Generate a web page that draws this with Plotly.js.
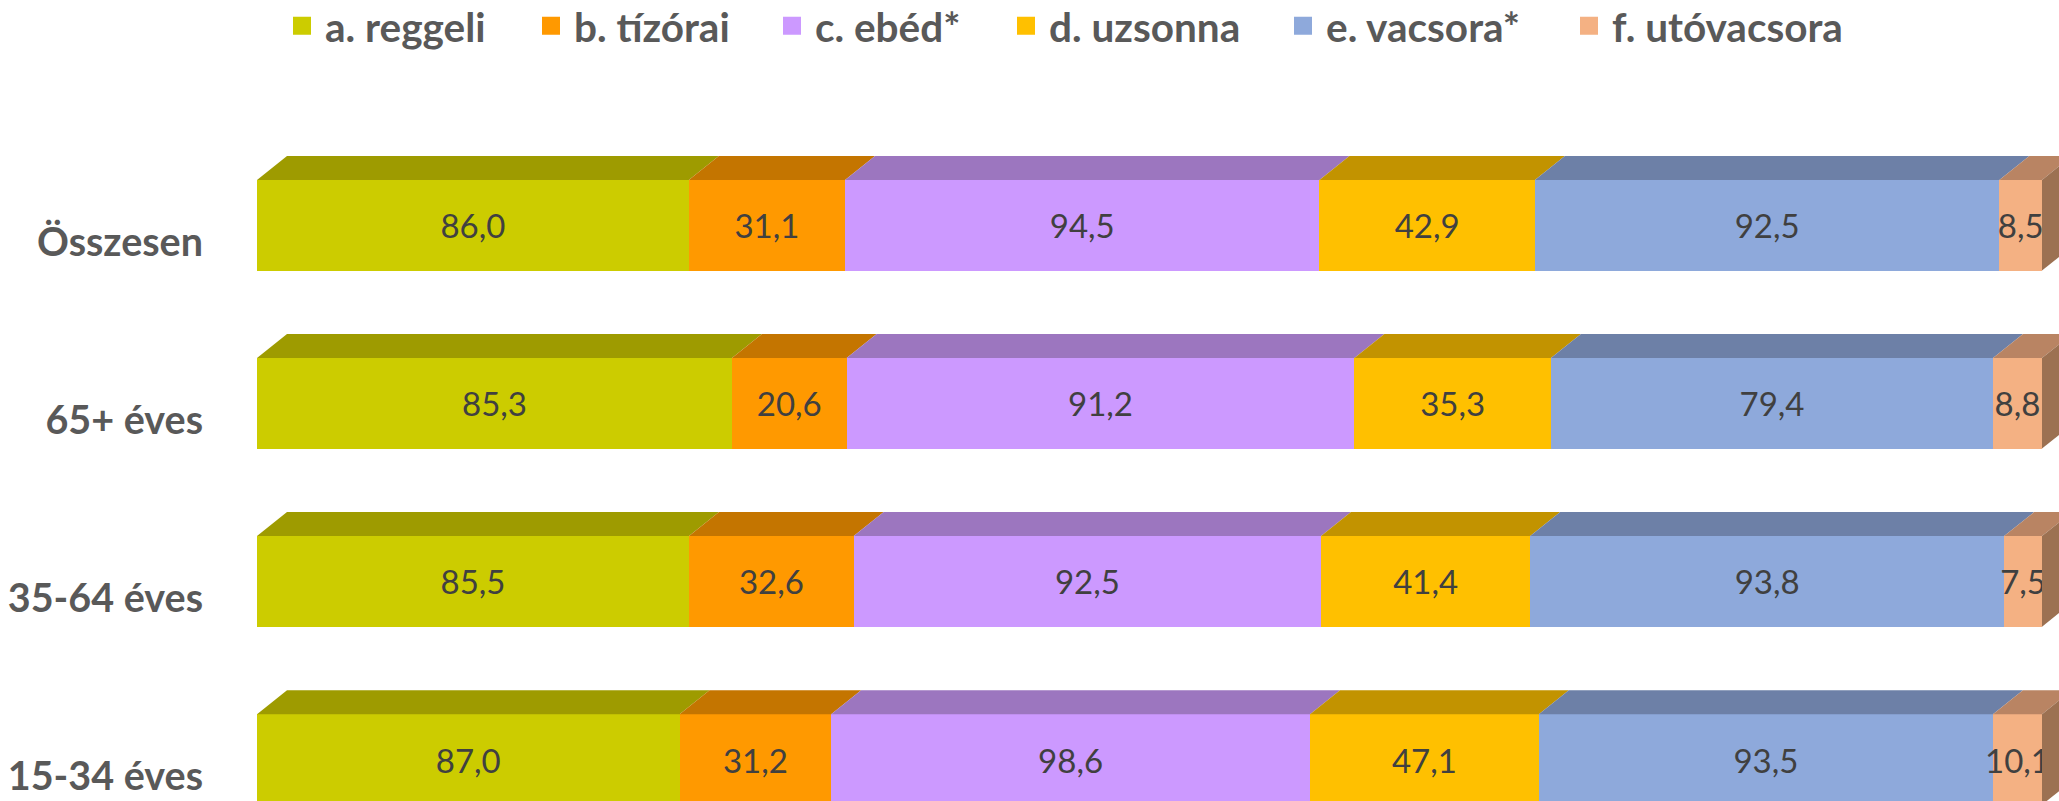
<!DOCTYPE html>
<html>
<head>
<meta charset="utf-8">
<script src="https://cdn.plot.ly/plotly-3.0.1.min.js"></script>
<style>
html, body { margin: 0; padding: 0; background: #ffffff; }
#chart { width: 2059px; height: 801px; }
</style>
</head>
<body>
<div id="chart"></div>
<script>
// ---- data ----
var categories = ['Összesen', '65+ éves', '35-64 éves', '15-34 éves'];
var seriesNames = ['a. reggeli', 'b. tízórai', 'c. ebéd*', 'd. uzsonna', 'e. vacsora*', 'f. utóvacsora'];
var reggeli    = [86.0, 85.3, 85.5, 87.0];
var tizorai    = [31.1, 20.6, 32.6, 31.2];
var ebed       = [94.5, 91.2, 92.5, 98.6];
var uzsonna    = [42.9, 35.3, 41.4, 47.1];
var vacsora    = [92.5, 79.4, 93.8, 93.5];
var utovacsora = [8.5, 8.8, 7.5, 10.1];
var seriesValues = [reggeli, tizorai, ebed, uzsonna, vacsora, utovacsora];

// ---- style ----
var frontColors = ['#CCCC00', '#FF9900', '#CC99FF', '#FFC000', '#8EA9DB', '#F4B183'];
var topColors   = ['#9E9B00', '#C47500', '#9C76BF', '#C29300', '#6D80A7', '#B98463'];
var sideColor   = '#9C7152';
var legendLeftPx = [291, 540, 781, 1015, 1292, 1578];   // legend entry positions (layout)

var W = 2059, H = 801;
var margin = {l: 257, r: 0, t: 130, b: 0};
var xPerUnitPx = 17.85;                    // pixels per percent unit
var plotW = W - margin.l - margin.r;
var xRange = [0, plotW / xPerUnitPx];
var catPx = 178.1;                          // pixels per category
var plotH = H - margin.t - margin.b;
var yTop = -(225.2 - margin.t) / catPx;     // index value at top of plot
var yRange = [yTop + plotH / catPx, yTop];  // reversed
var barWidth = 90.6 / catPx;
var depthX = 30 / xPerUnitPx;
var depthY = 24 / catPx;

var fontFam = 'Lato, "Open Sans", sans-serif';

// normalised (percent) values for 3D faces
var totals = categories.map(function (c, i) {
  return seriesValues.reduce(function (s, arr) { return s + arr[i]; }, 0);
});

var traces = [];
seriesValues.forEach(function (vals, k) {
  traces.push({
    type: 'bar',
    orientation: 'h',
    name: seriesNames[k],
    y: categories,
    x: vals,
    text: vals.map(function (v) { return v.toFixed(1).replace('.', ','); }),
    textposition: 'inside',
    insidetextanchor: 'middle',
    textangle: 0,
    constraintext: 'none',
    cliponaxis: false,
    insidetextfont: {family: fontFam, size: 33, color: '#404040'},
    marker: {color: frontColors[k], line: {width: 0}},
    width: barWidth,
    showlegend: false,
    hoverinfo: 'name+x'
  });
});
// legend proxies, one legend box per series
seriesValues.forEach(function (vals, k) {
  traces.push({
    type: 'scatter',
    mode: 'markers',
    name: seriesNames[k],
    legend: k === 0 ? 'legend' : 'legend' + (k + 1),
    x: [null], y: [null],
    marker: {symbol: 'square', size: 16, color: frontColors[k], line: {width: 2, color: frontColors[k]}},
    showlegend: true,
    hoverinfo: 'skip'
  });
});

// 3D top faces and right side face, computed from cumulative percent values
var shapes = [];
categories.forEach(function (c, i) {
  var cum = 0;
  var yt = i - barWidth / 2;
  var yb = i + barWidth / 2;
  seriesValues.forEach(function (vals, k) {
    var x0 = cum;
    var x1 = cum + vals[i] / totals[i] * 100;
    cum = x1;
    shapes.push({
      type: 'path', xref: 'x', yref: 'y', layer: 'above',
      path: 'M' + x0 + ',' + yt + ' L' + x1 + ',' + yt + ' L' + (x1 + depthX) + ',' + (yt - depthY) +
            ' L' + (x0 + depthX) + ',' + (yt - depthY) + ' Z',
      fillcolor: topColors[k], line: {width: 0}
    });
    if (k === seriesValues.length - 1) {
      shapes.push({
        type: 'path', xref: 'x', yref: 'y', layer: 'above',
        path: 'M' + x1 + ',' + yt + ' L' + (x1 + depthX) + ',' + (yt - depthY) + ' L' + (x1 + depthX) + ',' + (yb - depthY) +
              ' L' + x1 + ',' + yb + ' Z',
        fillcolor: sideColor, line: {width: 0}
      });
    }
  });
});

var layout = {
  width: W, height: H,
  margin: margin,
  paper_bgcolor: '#ffffff',
  plot_bgcolor: '#ffffff',
  barmode: 'stack',
  barnorm: 'percent',
  font: {family: fontFam, color: '#595959'},
  xaxis: {range: xRange, showgrid: false, zeroline: false, showticklabels: false, showline: false, fixedrange: true},
  yaxis: {
    type: 'category',
    range: yRange,
    showgrid: false, zeroline: false, showline: false,
    ticks: '',
    ticklabelstandoff: 53,
    ticklabelshift: -17,
    tickfont: {family: fontFam, size: 39.5, color: '#595959', weight: 'bold'},
    fixedrange: true
  },
  showlegend: true,
  shapes: shapes
};
legendLeftPx.forEach(function (px, k) {
  layout[k === 0 ? 'legend' : 'legend' + (k + 1)] = {
    orientation: 'h',
    xref: 'container', yref: 'container',
    x: (px - 12) / W, xanchor: 'left',
    y: 1 - 26 / H, yanchor: 'middle',
    itemwidth: 36,
    font: {family: fontFam, size: 40.5, color: '#595959', weight: 'bold'},
    bgcolor: 'rgba(0,0,0,0)'
  };
});

Plotly.newPlot('chart', traces, layout, {displayModeBar: false, staticPlot: true});
</script>
</body>
</html>
